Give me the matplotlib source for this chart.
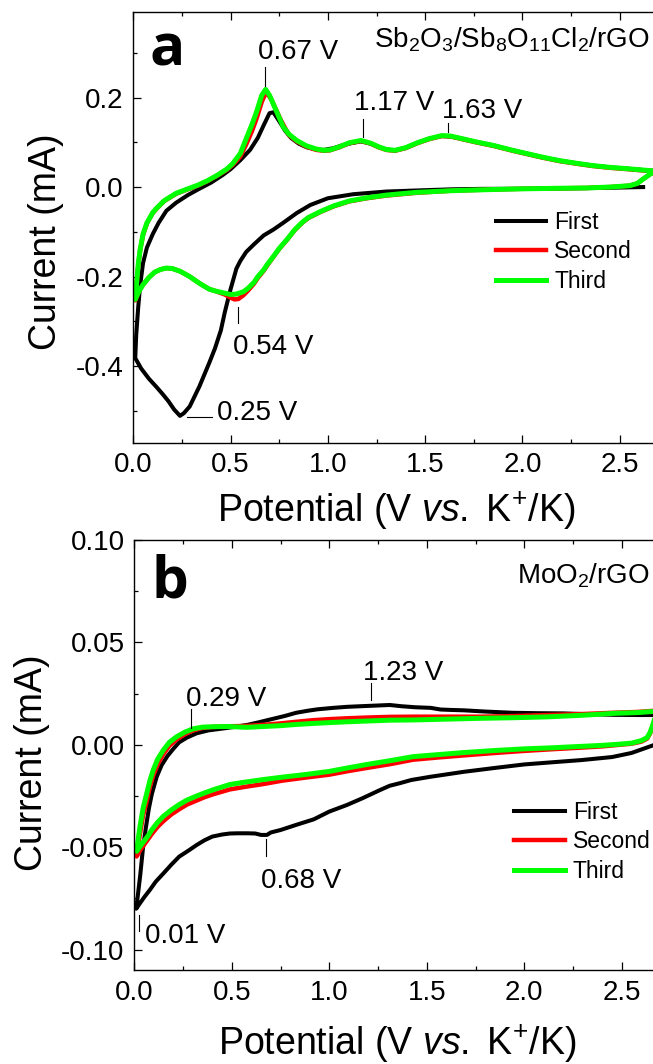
import matplotlib

matplotlib.use("Agg")
import matplotlib.pyplot as plt
from matplotlib.lines import Line2D
from matplotlib.ticker import FormatStrFormatter, MultipleLocator

plt.rcParams["font.family"] = "Liberation Sans"
plt.rcParams["mathtext.fontset"] = "custom"
plt.rcParams["mathtext.rm"] = "Liberation Sans"
plt.rcParams["mathtext.it"] = "Liberation Sans:italic"
plt.rcParams["mathtext.bf"] = "Liberation Sans:bold"
plt.rcParams["axes.unicode_minus"] = False

CYCLES = ["First", "Second", "Third"]
COLORS = ["#000000", "#ff0000", "#00ff00"]
WIDTHS = [2.9, 3.2, 3.6]

# ---- panel a: Sb2O3/Sb8O11Cl2/rGO (potential V, current mA), cathodic then anodic
a_first_E = [2.62, 2.40, 2.20, 2.00, 1.80, 1.64, 1.50, 1.30, 1.13, 1.00, 0.91, 0.84,
             0.77, 0.72, 0.67, 0.62, 0.58, 0.55, 0.53, 0.50, 0.47, 0.45, 0.42, 0.39,
             0.34, 0.29, 0.26, 0.24, 0.21, 0.18, 0.15, 0.12, 0.08, 0.04, 0.01,
             0.015, 0.025, 0.035, 0.05, 0.07, 0.10, 0.13, 0.17, 0.22, 0.28, 0.33,
             0.40, 0.46, 0.50, 0.55, 0.60, 0.64, 0.67, 0.70, 0.72, 0.75, 0.78, 0.81,
             0.85, 0.89, 0.94, 0.98, 1.03, 1.08, 1.12, 1.17, 1.22, 1.26, 1.30, 1.345,
             1.40, 1.46, 1.52, 1.585, 1.63, 1.68, 1.76, 1.85, 1.95, 2.02, 2.10, 2.19,
             2.28, 2.36, 2.45, 2.54, 2.62, 2.70]
a_first_I = [0.000, -0.002, -0.003, -0.004, -0.004, -0.005, -0.007, -0.010, -0.016,
             -0.025, -0.040, -0.058, -0.080, -0.095, -0.108, -0.128, -0.145, -0.165,
             -0.182, -0.228, -0.280, -0.320, -0.360, -0.393, -0.445, -0.490, -0.505,
             -0.511, -0.497, -0.478, -0.462, -0.447, -0.428, -0.405, -0.382,
             -0.330, -0.270, -0.220, -0.170, -0.135, -0.105, -0.080, -0.053, -0.035,
             -0.018, -0.006, 0.010, 0.027, 0.040, 0.060, 0.083, 0.110, 0.138, 0.165,
             0.167, 0.147, 0.126, 0.110, 0.097, 0.089, 0.084, 0.083, 0.087, 0.094,
             0.098, 0.102, 0.097, 0.090, 0.084, 0.082, 0.088, 0.099, 0.108, 0.114,
             0.113, 0.109, 0.101, 0.093, 0.082, 0.075, 0.067, 0.059, 0.053, 0.048,
             0.044, 0.041, 0.038, 0.035]

a_second_E = [2.70, 2.66, 2.62, 2.59, 2.55, 2.45, 2.33, 2.15, 1.99, 1.80, 1.64, 1.45,
              1.30, 1.20, 1.11, 1.03, 0.96, 0.90, 0.87, 0.83, 0.79, 0.75, 0.72, 0.69,
              0.67, 0.64, 0.62, 0.59, 0.565, 0.54, 0.52, 0.50, 0.47, 0.42, 0.39, 0.34,
              0.29, 0.24, 0.20, 0.17, 0.14, 0.11, 0.08, 0.05, 0.03, 0.01,
              0.018, 0.026, 0.035, 0.05, 0.07, 0.10, 0.12, 0.16, 0.22, 0.28, 0.33,
              0.38, 0.43, 0.48, 0.51, 0.55, 0.58, 0.61, 0.635, 0.66, 0.675, 0.69,
              0.71, 0.73, 0.76, 0.80, 0.84, 0.89, 0.94, 0.98, 1.01, 1.06, 1.11, 1.17,
              1.22, 1.26, 1.30, 1.345, 1.40, 1.46, 1.52, 1.585, 1.63, 1.68, 1.76,
              1.85, 1.95, 2.02, 2.10, 2.19, 2.28, 2.36, 2.45, 2.54, 2.62, 2.70]
a_second_I = [0.035, 0.030, 0.018, 0.008, 0.003, 0.000, -0.002, -0.003, -0.004,
              -0.006, -0.008, -0.013, -0.019, -0.025, -0.032, -0.043, -0.056, -0.069,
              -0.079, -0.096, -0.118, -0.138, -0.156, -0.174, -0.187, -0.203, -0.216,
              -0.231, -0.242, -0.250, -0.251, -0.247, -0.240, -0.232, -0.228, -0.215,
              -0.200, -0.188, -0.182, -0.181, -0.184, -0.190, -0.202, -0.218, -0.232,
              -0.253,
              -0.212, -0.172, -0.142, -0.107, -0.081, -0.058, -0.048, -0.031, -0.015,
              -0.005, 0.003, 0.013, 0.025, 0.038, 0.049, 0.068, 0.095, 0.125, 0.155,
              0.190, 0.205, 0.208, 0.195, 0.176, 0.148, 0.116, 0.102, 0.090, 0.083,
              0.081, 0.082, 0.089, 0.098, 0.103, 0.097, 0.089, 0.083, 0.081, 0.087,
              0.098, 0.107, 0.114, 0.113, 0.108, 0.100, 0.092, 0.081, 0.074, 0.066,
              0.058, 0.052, 0.047, 0.043, 0.040, 0.037, 0.035]

a_third_E = [2.70, 2.66, 2.62, 2.59, 2.55, 2.45, 2.33, 2.15, 1.99, 1.80, 1.64, 1.45,
             1.30, 1.20, 1.11, 1.03, 0.96, 0.90, 0.87, 0.83, 0.79, 0.75, 0.72, 0.69,
             0.67, 0.64, 0.62, 0.59, 0.565, 0.53, 0.50, 0.46, 0.42, 0.39, 0.34, 0.29,
             0.24, 0.20, 0.17, 0.14, 0.11, 0.08, 0.05, 0.03, 0.01,
             0.018, 0.026, 0.035, 0.05, 0.07, 0.10, 0.12, 0.16, 0.22, 0.28, 0.33,
             0.38, 0.43, 0.48, 0.51, 0.55, 0.58, 0.61, 0.635, 0.66, 0.68, 0.70, 0.72,
             0.75, 0.77, 0.80, 0.84, 0.89, 0.94, 0.98, 1.01, 1.06, 1.11, 1.17, 1.22,
             1.26, 1.30, 1.345, 1.40, 1.46, 1.52, 1.585, 1.63, 1.68, 1.76, 1.85, 1.95,
             2.02, 2.10, 2.19, 2.28, 2.36, 2.45, 2.54, 2.62, 2.70]
a_third_I = [0.035, 0.030, 0.018, 0.008, 0.003, 0.000, -0.002, -0.003, -0.004,
             -0.006, -0.008, -0.012, -0.018, -0.024, -0.031, -0.042, -0.055, -0.068,
             -0.078, -0.095, -0.117, -0.137, -0.155, -0.172, -0.185, -0.200, -0.213,
             -0.226, -0.234, -0.239, -0.240, -0.236, -0.232, -0.228, -0.215, -0.200,
             -0.188, -0.182, -0.181, -0.184, -0.190, -0.202, -0.218, -0.232, -0.251,
             -0.210, -0.170, -0.140, -0.105, -0.080, -0.057, -0.047, -0.030, -0.014,
             -0.004, 0.004, 0.014, 0.026, 0.040, 0.052, 0.075, 0.108, 0.140, 0.170,
             0.205, 0.218, 0.205, 0.185, 0.155, 0.135, 0.118, 0.104, 0.092, 0.085,
             0.082, 0.083, 0.090, 0.099, 0.104, 0.098, 0.090, 0.084, 0.082, 0.088,
             0.099, 0.108, 0.115, 0.114, 0.109, 0.101, 0.093, 0.082, 0.075, 0.067,
             0.059, 0.053, 0.048, 0.044, 0.041, 0.038, 0.035]

# ---- panel b: MoO2/rGO
b_first_E = [2.70, 2.66, 2.55, 2.45, 2.29, 2.15, 2.00, 1.85, 1.69, 1.52, 1.42, 1.36,
             1.31, 1.26, 1.17, 1.09, 1.00, 0.92, 0.83, 0.75, 0.70, 0.68, 0.65, 0.62,
             0.58, 0.53, 0.49, 0.45, 0.40, 0.36, 0.32, 0.28, 0.23, 0.19, 0.15, 0.11,
             0.08, 0.05, 0.03, 0.01,
             0.02, 0.03, 0.045, 0.06, 0.075, 0.09, 0.115, 0.14, 0.17, 0.20, 0.23,
             0.27, 0.32, 0.38, 0.46, 0.52, 0.58, 0.64, 0.70, 0.77, 0.83, 0.89, 0.94,
             1.02, 1.09, 1.16, 1.21, 1.26, 1.31, 1.37, 1.44, 1.52, 1.57, 1.62, 1.69,
             1.80, 1.94, 2.07, 2.20, 2.33, 2.46, 2.58, 2.70]
b_first_I = [0.0010, -0.0003, -0.0040, -0.0060, -0.0075, -0.0085, -0.0096, -0.0113,
             -0.0132, -0.0156, -0.0172, -0.0188, -0.0200, -0.0221, -0.0261, -0.0294,
             -0.0326, -0.0364, -0.0391, -0.0416, -0.0428, -0.0440, -0.0440, -0.0433,
             -0.0432, -0.0432, -0.0433, -0.0438, -0.0448, -0.0466, -0.0489, -0.0515,
             -0.0546, -0.0585, -0.0627, -0.0668, -0.0708, -0.0745, -0.0772, -0.0800,
             -0.0720, -0.0640, -0.0500, -0.0400, -0.0310, -0.0240, -0.0156, -0.0100,
             -0.0055, -0.0020, 0.0012, 0.0035, 0.0056, 0.0070, 0.0080, 0.0088,
             0.0097, 0.0110, 0.0124, 0.0140, 0.0156, 0.0166, 0.0173, 0.0180, 0.0185,
             0.0188, 0.0190, 0.0192, 0.0194, 0.0188, 0.0183, 0.0180, 0.0172, 0.0170,
             0.0168, 0.0162, 0.0156, 0.0154, 0.0153, 0.0149, 0.0146, 0.0145, 0.0145]

b_second_E = [2.70, 2.675, 2.66, 2.645, 2.63, 2.60, 2.55, 2.49, 2.40, 2.29, 2.14,
              2.00, 1.85, 1.69, 1.56, 1.43, 1.31, 1.20, 1.10, 1.00, 0.88, 0.76, 0.66,
              0.57, 0.49, 0.41, 0.36, 0.32, 0.27, 0.23, 0.19, 0.15, 0.12, 0.09, 0.07,
              0.05, 0.03, 0.012,
              0.02, 0.03, 0.045, 0.064, 0.08, 0.097, 0.12, 0.149, 0.18, 0.217, 0.26,
              0.303, 0.35, 0.405, 0.48, 0.576, 0.66, 0.747, 0.83, 0.918, 1.00, 1.089,
              1.20, 1.311, 1.431, 1.60, 1.773, 1.95, 2.115, 2.30, 2.456, 2.58, 2.70]
b_second_I = [0.0170, 0.0140, 0.0095, 0.0055, 0.0030, 0.0015, 0.0005, 0.0000,
              -0.0008, -0.0014, -0.0022, -0.0030, -0.0040, -0.0052, -0.0062, -0.0073,
              -0.0095, -0.0112, -0.0128, -0.0146, -0.0160, -0.0175, -0.0192, -0.0205,
              -0.0218, -0.0240, -0.0256, -0.0272, -0.0292, -0.0315, -0.0340, -0.0372,
              -0.0400, -0.0435, -0.0462, -0.0488, -0.0515, -0.0545,
              -0.0490, -0.0430, -0.0345, -0.0275, -0.0205, -0.0150, -0.0095, -0.0045,
              -0.0005, 0.0026, 0.0052, 0.0070, 0.0082, 0.0087, 0.0090, 0.0092,
              0.0097, 0.0104, 0.0112, 0.0120, 0.0125, 0.0129, 0.0133, 0.0136, 0.0137,
              0.0137, 0.0137, 0.0140, 0.0145, 0.0150, 0.0156, 0.0160, 0.0168]

b_third_E = [2.70, 2.675, 2.66, 2.645, 2.63, 2.60, 2.55, 2.49, 2.40, 2.29, 2.14,
             2.00, 1.85, 1.69, 1.56, 1.43, 1.31, 1.20, 1.10, 1.00, 0.88, 0.76, 0.66,
             0.57, 0.49, 0.41, 0.36, 0.32, 0.27, 0.23, 0.19, 0.15, 0.12, 0.09, 0.07,
             0.05, 0.03, 0.012,
             0.02, 0.029, 0.045, 0.064, 0.08, 0.097, 0.12, 0.149, 0.18, 0.217, 0.26,
             0.303, 0.35, 0.405, 0.48, 0.576, 0.66, 0.747, 0.83, 0.918, 1.00, 1.089,
             1.20, 1.311, 1.431, 1.60, 1.773, 1.95, 2.115, 2.30, 2.456, 2.58, 2.70]
b_third_I = [0.0180, 0.0150, 0.0100, 0.0060, 0.0035, 0.0020, 0.0008, 0.0003,
             -0.0003, -0.0008, -0.0015, -0.0020, -0.0028, -0.0038, -0.0048, -0.0058,
             -0.0078, -0.0095, -0.0112, -0.0130, -0.0145, -0.0158, -0.0170, -0.0182,
             -0.0194, -0.0218, -0.0235, -0.0250, -0.0270, -0.0292, -0.0318, -0.0348,
             -0.0378, -0.0415, -0.0445, -0.0470, -0.0495, -0.0520,
             -0.0460, -0.0400, -0.0310, -0.0237, -0.0175, -0.0123, -0.0070, -0.0026,
             0.0012, 0.0039, 0.0062, 0.0078, 0.0086, 0.0088, 0.0089, 0.0085,
             0.0089, 0.0093, 0.0099, 0.0104, 0.0108, 0.0112, 0.0116, 0.0120, 0.0121,
             0.0125, 0.0129, 0.0132, 0.0136, 0.0144, 0.0153, 0.0157, 0.0165]

# peak labels: text, text position, leader line (xs, ys)
a_peaks = [
    ("0.67 V", (0.642, 0.286), ([0.677, 0.677], [0.268, 0.225])),
    ("1.17 V", (1.136, 0.172), ([1.182, 1.182], [0.152, 0.112])),
    ("1.63 V", (1.585, 0.154), ([1.616, 1.616], [0.143, 0.123])),
    ("0.54 V", (0.512, -0.373), ([0.540, 0.540], [-0.267, -0.304])),
    ("0.25 V", (0.432, -0.520), ([0.274, 0.406], [-0.513, -0.513])),
]
b_peaks = [
    ("0.29 V", (0.264, 0.0191), ([0.289, 0.289], [0.0174, 0.0084])),
    ("1.23 V", (1.174, 0.0314), ([1.212, 1.212], [0.0301, 0.0216])),
    ("0.68 V", (0.650, -0.0701), ([0.675, 0.675], [-0.0460, -0.0545])),
    ("0.01 V", (0.055, -0.0966), ([0.024, 0.024], [-0.0830, -0.0911])),
]

W, H = 653, 1064
fig = plt.figure(figsize=(W / 100, H / 100), dpi=100)


def draw_panel(rect, cycles, ylim, ymaj, ymin, yfmt, peaks, letter, letter_xy,
               sample, sample_xy, legend_xy, ylabel_xy, xlabel_y):
    ax = fig.add_axes(rect)
    for (E, I), c, lw, name in zip(cycles, COLORS, WIDTHS, CYCLES):
        ax.plot(E, I, color=c, lw=lw, solid_joinstyle="round", label=name)
    ax.set_xlim(0, 2.70)
    ax.set_ylim(*ylim)
    ax.xaxis.set_major_locator(MultipleLocator(0.5))
    ax.xaxis.set_minor_locator(MultipleLocator(0.25))
    ax.xaxis.set_major_formatter(FormatStrFormatter("%.1f"))
    ax.yaxis.set_major_locator(MultipleLocator(ymaj))
    ax.yaxis.set_minor_locator(MultipleLocator(ymin))
    ax.yaxis.set_major_formatter(FormatStrFormatter(yfmt))
    ax.tick_params(which="both", direction="in", top=True, right=False,
                   labelsize=20, width=0.9, pad=7)
    ax.tick_params(which="major", length=6)
    ax.tick_params(which="minor", length=3)
    for s in ax.spines.values():
        s.set_linewidth(1.0)
    ax.spines["right"].set_visible(False)

    for text, (tx, ty), (lx, ly) in peaks:
        ax.plot(lx, ly, color="black", lw=0.8)
        ax.text(tx, ty, text, fontsize=20, va="baseline", ha="left")

    ax.set_ylabel("Current (mA)", fontsize=27)
    ax.yaxis.set_label_coords(*ylabel_xy)
    ax.set_xlabel(r"Potential (V $\mathit{vs.}$ K$^{+}$/K)", fontsize=27,
                  va="baseline")
    ax.xaxis.set_label_coords(0.5, xlabel_y)

    fig.text(letter_xy[0] / W, 1 - letter_xy[1] / H, letter, fontsize=42,
             fontweight="bold", family="Open Sans", va="baseline", ha="left")
    fig.text(sample_xy[0] / W, 1 - sample_xy[1] / H, sample, fontsize=20,
             va="baseline", ha="right")

    handles = [Line2D([], [], color=c, lw=lw) for c, lw in zip(COLORS, WIDTHS)]
    ax.legend(handles, CYCLES, loc="center left",
              bbox_to_anchor=(legend_xy[0] / W, 1 - legend_xy[1] / H),
              bbox_transform=fig.transFigure, frameon=False, fontsize=16.5,
              handlelength=2.2, handletextpad=0.35, labelspacing=0.28,
              borderpad=0, borderaxespad=0)
    return ax


draw_panel([133.3 / W, 1 - 442.7 / H, 525.4 / W, 430.7 / H],
           [(a_first_E, a_first_I), (a_second_E, a_second_I), (a_third_E, a_third_I)],
           (-0.571, 0.391), 0.2, 0.1, "%.1f", a_peaks, "a", (150, 65),
           r"Sb$_2$O$_3$/Sb$_8$O$_{11}$Cl$_2$/rGO", (650, 48), (495.7, 252),
           (-0.132, 0.466), -0.1834)

draw_panel([134.3 / W, 1 - 970.2 / H, 526.5 / W, 430.4 / H],
           [(b_first_E, b_first_I), (b_second_E, b_second_I), (b_third_E, b_third_I)],
           (-0.110, 0.100), 0.05, 0.025, "%.2f", b_peaks, "b", (152, 598),
           r"MoO$_2$/rGO", (650, 584), (514.3, 842),
           (-0.160, 0.482), -0.197)

fig.savefig("out.png", dpi=100)
